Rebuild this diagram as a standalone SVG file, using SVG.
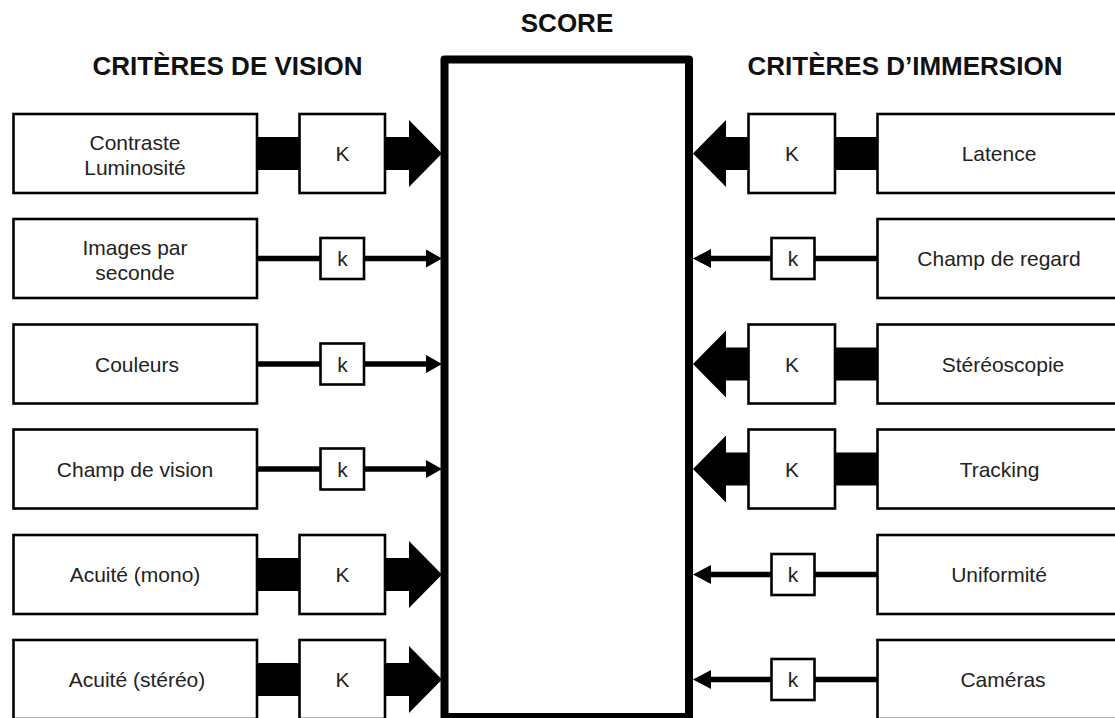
<svg xmlns="http://www.w3.org/2000/svg" width="1115" height="718" viewBox="0 0 1115 718">
<style>
.box{fill:#fff;stroke:#000;stroke-width:2.6}
.lbl{font-family:"Liberation Sans",Arial,sans-serif;font-size:21px;fill:#222;text-anchor:middle}
.ttl{font-family:"Liberation Sans",Arial,sans-serif;font-size:26px;font-weight:bold;fill:#111;text-anchor:middle}
.thin{stroke:#000;stroke-width:5.5;fill:none}
.head{fill:#000}
</style>
<rect width="1115" height="718" fill="#fff"/>
<text class="ttl" x="567" y="31.5">SCORE</text>
<text class="ttl" x="227.5" y="75">CRITÈRES DE VISION</text>
<text class="ttl" x="905" y="75">CRITÈRES D’IMMERSION</text>
<g id="connectors">
<polygon class="head" points="257,137 409,137 409,120 442,153.5 409,187 409,170 257,170"/>
<line class="thin" x1="257" y1="258.5" x2="428" y2="258.5"/>
<polygon class="head" points="426,249.5 442,258.5 426,267.5"/>
<line class="thin" x1="257" y1="364" x2="428" y2="364"/>
<polygon class="head" points="426,355 442,364 426,373"/>
<line class="thin" x1="257" y1="469" x2="428" y2="469"/>
<polygon class="head" points="426,460 442,469 426,478"/>
<polygon class="head" points="257,558 409,558 409,541 442,574.5 409,608 409,591 257,591"/>
<polygon class="head" points="257,663 409,663 409,646 442,679.5 409,713 409,696 257,696"/>
<polygon class="head" points="878,137 726,137 726,120 693,153.5 726,187 726,170 878,170"/>
<line class="thin" x1="878" y1="258.5" x2="709" y2="258.5"/>
<polygon class="head" points="711,249 693,258.5 711,268"/>
<polygon class="head" points="878,347.5 726,347.5 726,330.5 693,364 726,397.5 726,380.5 878,380.5"/>
<polygon class="head" points="878,452.5 726,452.5 726,435.5 693,469 726,502.5 726,485.5 878,485.5"/>
<line class="thin" x1="878" y1="574.5" x2="709" y2="574.5"/>
<polygon class="head" points="711,565 693,574.5 711,584"/>
<line class="thin" x1="878" y1="679.5" x2="709" y2="679.5"/>
<polygon class="head" points="711,670 693,679.5 711,689"/>
</g>
<g id="score"><rect x="444.5" y="59.5" width="244.5" height="657.5" fill="none" stroke="#000" stroke-width="8" stroke-linejoin="round"/></g>
<g id="n-contraste"><rect class="box" x="13.5" y="114" width="243.5" height="79"/><text class="lbl" x="135" y="150">Contraste</text><text class="lbl" x="135" y="175">Luminosité</text></g>
<g id="n-images"><rect class="box" x="13.5" y="219" width="243.5" height="79"/><text class="lbl" x="135" y="255">Images par</text><text class="lbl" x="135" y="280">seconde</text></g>
<g id="n-couleurs"><rect class="box" x="13.5" y="324.5" width="243.5" height="79"/><text class="lbl" x="137" y="371.5">Couleurs</text></g>
<g id="n-champvision"><rect class="box" x="13.5" y="429.5" width="243.5" height="79"/><text class="lbl" x="135" y="476.5">Champ de vision</text></g>
<g id="n-acuitemono"><rect class="box" x="13.5" y="535" width="243.5" height="79"/><text class="lbl" x="135" y="582">Acuité (mono)</text></g>
<g id="n-acuitestereo"><rect class="box" x="13.5" y="640" width="243.5" height="79"/><text class="lbl" x="137" y="687">Acuité (stéréo)</text></g>
<g id="k-l1"><rect class="box" x="299.5" y="114" width="85.5" height="79"/><text class="lbl" x="342.5" y="161">K</text></g>
<g id="k-l2"><rect class="box" x="320.5" y="238" width="43.5" height="41"/><text class="lbl" x="342.5" y="266">k</text></g>
<g id="k-l3"><rect class="box" x="320.5" y="343.5" width="43.5" height="41"/><text class="lbl" x="342.5" y="371.5">k</text></g>
<g id="k-l4"><rect class="box" x="320.5" y="448.5" width="43.5" height="41"/><text class="lbl" x="342.5" y="476.5">k</text></g>
<g id="k-l5"><rect class="box" x="299.5" y="535" width="85.5" height="79"/><text class="lbl" x="342.5" y="582">K</text></g>
<g id="k-l6"><rect class="box" x="299.5" y="640" width="85.5" height="79"/><text class="lbl" x="342.5" y="687">K</text></g>
<g id="n-latence"><rect class="box" x="877.5" y="114" width="244" height="79"/><text class="lbl" x="999" y="161">Latence</text></g>
<g id="n-champregard"><rect class="box" x="877.5" y="219" width="244" height="79"/><text class="lbl" x="999" y="266">Champ de regard</text></g>
<g id="n-stereoscopie"><rect class="box" x="877.5" y="324.5" width="244" height="79"/><text class="lbl" x="1003" y="371.5">Stéréoscopie</text></g>
<g id="n-tracking"><rect class="box" x="877.5" y="429.5" width="244" height="79"/><text class="lbl" x="999.5" y="476.5">Tracking</text></g>
<g id="n-uniformite"><rect class="box" x="877.5" y="535" width="244" height="79"/><text class="lbl" x="999" y="582">Uniformité</text></g>
<g id="n-cameras"><rect class="box" x="877.5" y="640" width="244" height="79"/><text class="lbl" x="1003" y="687">Caméras</text></g>
<g id="k-r1"><rect class="box" x="748.5" y="114" width="86.5" height="79"/><text class="lbl" x="792" y="161">K</text></g>
<g id="k-r2"><rect class="box" x="771.5" y="238" width="43" height="41"/><text class="lbl" x="793" y="266">k</text></g>
<g id="k-r3"><rect class="box" x="748.5" y="324.5" width="86.5" height="79"/><text class="lbl" x="792" y="371.5">K</text></g>
<g id="k-r4"><rect class="box" x="748.5" y="429.5" width="86.5" height="79"/><text class="lbl" x="792" y="476.5">K</text></g>
<g id="k-r5"><rect class="box" x="771.5" y="554" width="43" height="41"/><text class="lbl" x="793" y="582">k</text></g>
<g id="k-r6"><rect class="box" x="771.5" y="659" width="43" height="41"/><text class="lbl" x="793" y="687">k</text></g>
</svg>
